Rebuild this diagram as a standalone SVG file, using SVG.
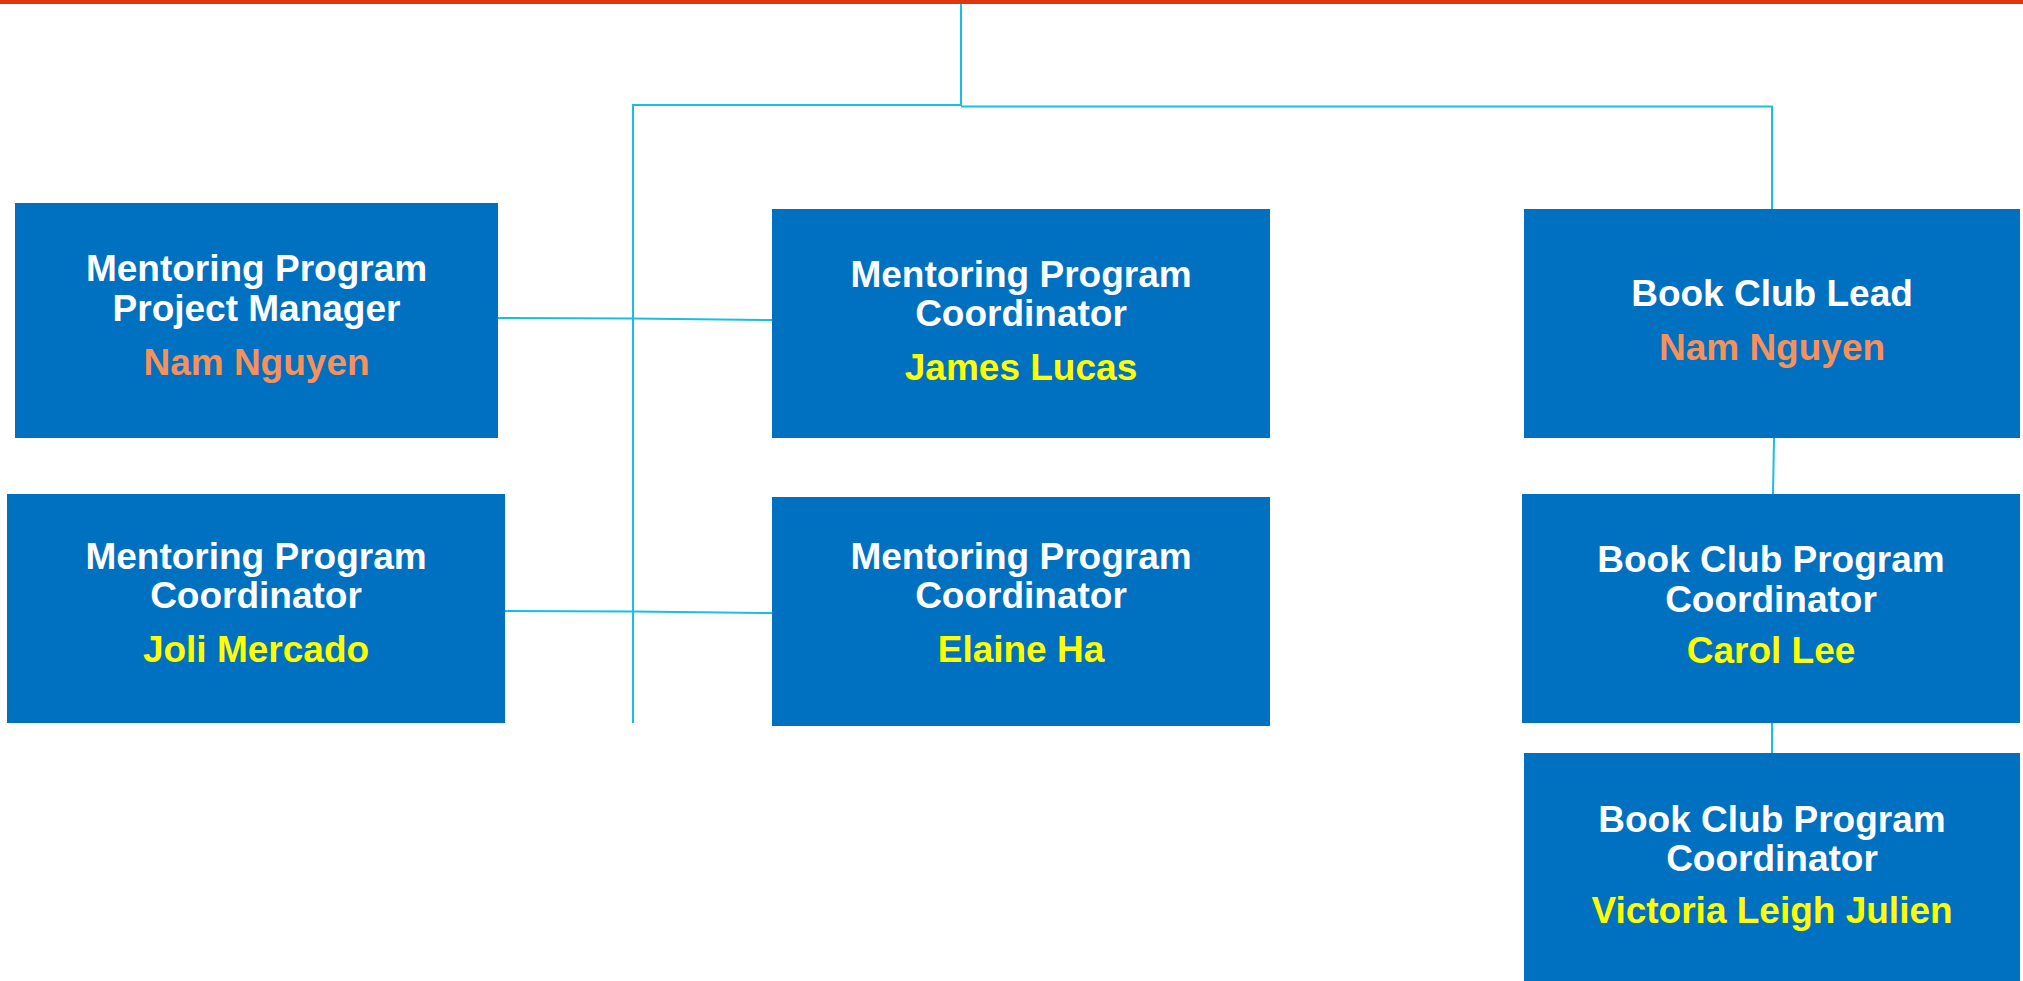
<svg xmlns="http://www.w3.org/2000/svg" width="2023" height="981" viewBox="0 0 2023 981">
<style>
.box{fill:#0070C0}
.t{font-family:"Liberation Sans",Arial,sans-serif;font-weight:bold;font-size:37px;text-anchor:middle;fill:#FFFFFF}
.o{fill:#F7915B}
.y{fill:#FFFF00}
.c{fill:none;stroke:#17BFE2;stroke-width:2}
</style>
<rect x="0" y="0" width="2023" height="981" fill="#FFFFFF"/>
<rect x="0" y="0" width="2023" height="4" fill="#E0360E"/>
<g id="connectors">
<path class="c" d="M961 4 V106"/>
<path class="c" d="M633 723 V105 H961"/>
<path class="c" d="M961 106.5 H1772 V209"/>
<path class="c" d="M498 318 L633 318.5 L772 320"/>
<path class="c" d="M505 611 L633 611.5 L772 613"/>
<path class="c" d="M1774 438 L1773 494"/>
<path class="c" d="M1772 723 V753"/>
</g>
<g id="n1">
<rect class="box" x="15" y="203" width="483" height="235"/>
<text class="t" x="256.5" y="281">Mentoring Program</text>
<text class="t" x="256.5" y="321">Project Manager</text>
<text class="t o" x="256.5" y="375">Nam Nguyen</text>
</g>
<g id="n2">
<rect class="box" x="772" y="209" width="498" height="229"/>
<text class="t" x="1021" y="287">Mentoring Program</text>
<text class="t" x="1021" y="326">Coordinator</text>
<text class="t y" x="1021" y="380">James Lucas</text>
</g>
<g id="n3">
<rect class="box" x="1524" y="209" width="496" height="229"/>
<text class="t" x="1772" y="306">Book Club Lead</text>
<text class="t o" x="1772" y="360">Nam Nguyen</text>
</g>
<g id="n4">
<rect class="box" x="7" y="494" width="498" height="229"/>
<text class="t" x="256" y="569">Mentoring Program</text>
<text class="t" x="256" y="608">Coordinator</text>
<text class="t y" x="256" y="662">Joli Mercado</text>
</g>
<g id="n5">
<rect class="box" x="772" y="497" width="498" height="229"/>
<text class="t" x="1021" y="569">Mentoring Program</text>
<text class="t" x="1021" y="608">Coordinator</text>
<text class="t y" x="1021" y="662">Elaine Ha</text>
</g>
<g id="n6">
<rect class="box" x="1522" y="494" width="498" height="229"/>
<text class="t" x="1771" y="572">Book Club Program</text>
<text class="t" x="1771" y="612">Coordinator</text>
<text class="t y" x="1771" y="663">Carol Lee</text>
</g>
<g id="n7">
<rect class="box" x="1524" y="753" width="496" height="228"/>
<text class="t" x="1772" y="832">Book Club Program</text>
<text class="t" x="1772" y="871">Coordinator</text>
<text class="t y" x="1772" y="923">Victoria Leigh Julien</text>
</g>
</svg>
